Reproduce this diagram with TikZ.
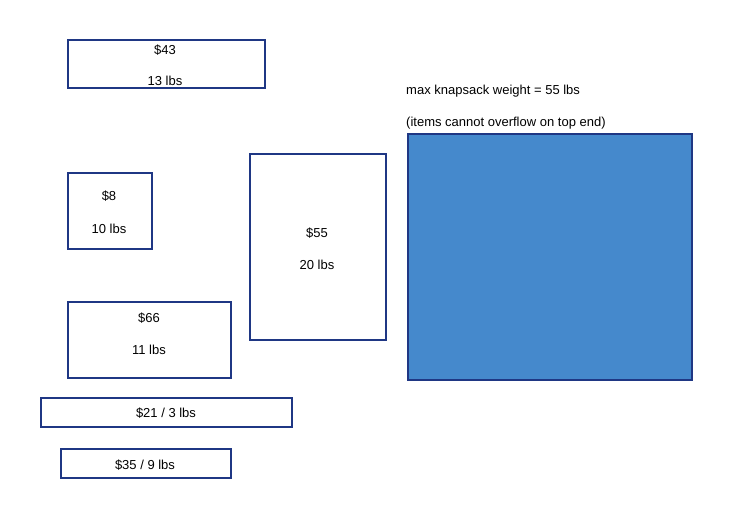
\documentclass[tikz,border=0pt]{standalone}
\usepackage{fontspec}
\setmainfont{Liberation Sans}
\definecolor{navy}{HTML}{1F3784}
\definecolor{sackblue}{HTML}{4589CC}
\begin{document}
\begin{tikzpicture}[x=1pt,y=-1pt,
  item/.style={draw=navy,line width=2pt,fill=white,inner sep=0pt,outer sep=0pt},
  lbl/.style={inner sep=0pt,yshift=-1.5pt,font=\fontsize{13}{15}\selectfont,text=black},
  note/.style={inner sep=0pt,yshift=-1.5pt,anchor=west,font=\fontsize{13}{15}\selectfont,text=black}]
\useasboundingbox[fill=white] (0,0) rectangle (732,519);
% items
\node[item,minimum width=197pt,minimum height=48pt] (b43) at (166,64.5) {};
\node[lbl] (t43a) at (165,49) {\$43};
\node[lbl] (t43b) at (165,79) {13 lbs};
\node[item,minimum width=84pt,minimum height=76pt] (b8) at (109.5,210.5) {};
\node[lbl] (t8a) at (109,195) {\$8};
\node[lbl] (t8b) at (109,227) {10 lbs};
\node[item,minimum width=136pt,minimum height=185pt] (b55) at (317.5,247) {};
\node[lbl] (t55a) at (317,232) {\$55};
\node[lbl] (t55b) at (317,263) {20 lbs};
\node[item,minimum width=163pt,minimum height=76pt] (b66) at (149,339.5) {};
\node[lbl] (t66a) at (149,317) {\$66};
\node[lbl] (t66b) at (149,348) {11 lbs};
\node[item,minimum width=251pt,minimum height=29pt] (b21) at (166,412) {};
\node[lbl] (t21) at (166,412) {\$21 / 3 lbs};
\node[item,minimum width=170pt,minimum height=29pt] (b35) at (145.5,463) {};
\node[lbl] (t35) at (145,464) {\$35 / 9 lbs};
% knapsack
\node[draw=navy,line width=2pt,fill=sackblue,inner sep=0pt,minimum width=284pt,minimum height=245pt] (sack) at (549.5,257) {};
\node[note] (n1) at (406,89.5) {max knapsack weight = 55 lbs};
\node[note] (n2) at (406,121.5) {(items cannot overflow on top end)};
\end{tikzpicture}
\end{document}
